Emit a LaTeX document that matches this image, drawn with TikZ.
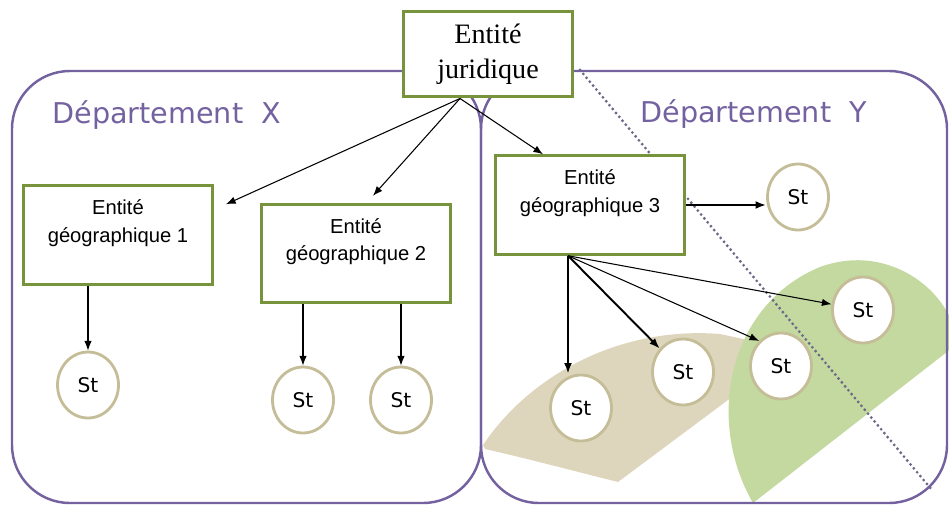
\documentclass[tikz,border=0pt]{standalone}
\usepackage{fontspec}
\setmainfont{Liberation Sans}
\newfontfamily\jurfont{Liberation Serif}
\newfontfamily\deptfont{DejaVu Sans}
\usetikzlibrary{shapes.geometric,arrows.meta,calc}

\definecolor{boxgreen}{HTML}{77933C}
\definecolor{deptpurple}{HTML}{7462A0}
\definecolor{limitegray}{HTML}{6C6888}
\definecolor{zonetan}{HTML}{DDD6BC}
\definecolor{zonegreen}{HTML}{C3D9A0}
\definecolor{sttan}{HTML}{C4BD97}

\tikzset{
  entite/.style={draw=boxgreen, line width=1.7pt, fill=white, align=center,
    minimum width=3.78cm, minimum height=1.97cm, inner sep=0pt,
    font=\fontsize{11.5}{15.9}\selectfont},
  juridique/.style={entite, minimum width=3.4cm, minimum height=1.72cm,
    font=\jurfont\fontsize{16}{20}\selectfont},
  stnode/.style={ellipse, draw=sttan, line width=1.6pt, fill=white,
    minimum width=1.22cm, minimum height=1.32cm, inner sep=0pt,
    font=\deptfont\fontsize{11.5}{14}\selectfont},
  dept/.style={draw=deptpurple, line width=1.4pt, rounded corners=1.16cm},
  deptlabel/.style={text=deptpurple, anchor=base west, inner sep=0pt,
    font=\deptfont\fontsize{16.3}{19}\selectfont},
  lien/.style={-{Latex[length=5.5pt,width=4.2pt]}, line width=0.6pt},
  lienfort/.style={-{Latex[length=6pt,width=4.5pt]}, line width=1.1pt}
}

\begin{document}
\begin{tikzpicture}[x=0.02cm, y=-0.02cm]
  \useasboundingbox (0,0) rectangle (949,507);

  % zones
  \fill[zonetan] (483,445) .. controls (530,375) and (620,326) .. (720,334)
    -- (795,350) -- (618,482) .. controls (570,470) and (525,458) .. (485,449) -- cycle;
  \fill[zonegreen] (753,503) .. controls (705,420) and (728,305) .. (820,267)
    .. controls (880,245) and (935,280) .. (952,322) -- (952,348) -- cycle;

  % departements
  \draw[dept] (12,71) rectangle (481,503);
  \draw[dept] (481,71) rectangle (947,503);
  \node[deptlabel] (deptx) at (52,123) {Département~~X};
  \node[deptlabel] (depty) at (640,122) {Département~~Y};

  % limite
  \draw[limitegray, line width=1.8pt, line cap=round,
    dash pattern=on 0pt off 2.9pt] (580,70) -- (932,490);

  % entites
  \node[juridique] (ej) at (488,54) {Entité\\juridique};
  \node[entite] (eg1) at (118,235) {Entité\\géographique 1\\\mbox{}};
  \node[entite] (eg2) at (356,253.5) {Entité\\géographique 2\\\mbox{}};
  \node[entite] (eg3) at (590,205) {Entité\\géographique 3\\\mbox{}};

  % stations
  \foreach \n/\x/\y in {1/88/385, 2/303/400, 3/401/400, 4/581/408,
                        5/683/372, 6/781/366, 7/863/310, 8/798/197}
    \node[stnode] (st\n) at (\x,\y) {St};

  % liens
  \coordinate (ejb) at ($(ej.south)+(-28,0)$);
  \coordinate (g3b) at ($(eg3.south)+(-22,0)$);
  \draw[lien] (ejb) -- ($(eg1.north east)+(12,20)$);
  \draw[lien] (ejb) -- ($(eg2.north)+(17,-7)$);
  \draw[lien] (ejb) -- ($(eg3.north west)+(49,0)$);
  \draw[lien] (eg1.south -| st1.north) -- (st1.north);
  \draw[lien] (eg2.south -| st2.north) -- (st2.north);
  \draw[lien] (eg2.south -| st3.north) -- (st3.north);
  \draw[lienfort] (eg3.east) -- (eg3.east -| st8.west);
  \draw[lienfort] (g3b) -- (g3b |- st4.north);
  \draw[lienfort] (g3b) -- (st5);
  \draw[lien] (g3b) -- (st6.131);
  \draw[lien] (g3b) -- (st7);
\end{tikzpicture}
\end{document}
